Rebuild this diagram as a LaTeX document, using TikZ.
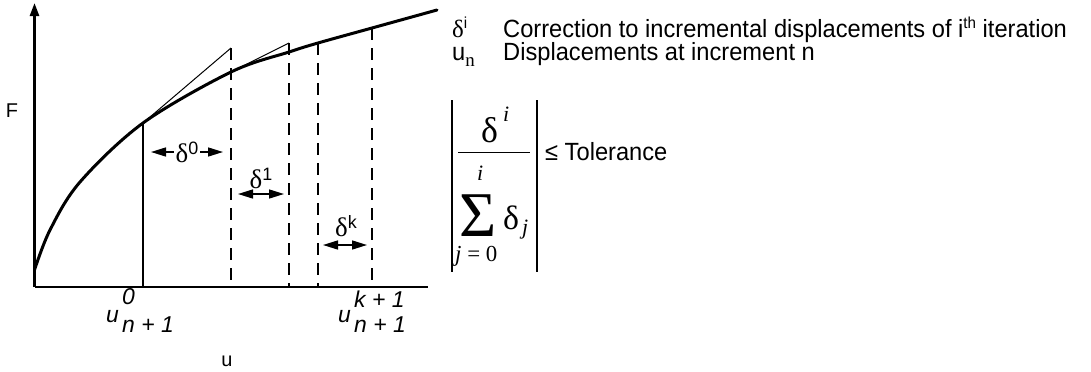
\documentclass[tikz,border=0pt]{standalone}
\usepackage{fontspec}
\setmainfont{Liberation Sans}
\newfontfamily\tms{Liberation Serif}
\newfontfamily\legfont[FakeStretch=0.95]{Liberation Sans}
\usetikzlibrary{arrows.meta}
\newcommand\dlab[1]{{\tms\fontsize{27}{29}\selectfont δ}\raisebox{8bp}{\fontsize{18}{20}\selectfont #1}}
\begin{document}
\begin{tikzpicture}[x=1bp,y=-1bp,
  axis/.style={line width=2.5bp},
  curve/.style={line width=3bp, line join=round, line cap=round},
  solidv/.style={line width=2bp},
  tang/.style={line width=1bp},
  dline/.style={line width=2bp, dash pattern=on 12bp off 8bp},
  dim/.style={line width=1.5bp, {Triangle[length=15bp,width=9bp]}-{Triangle[length=15bp,width=9bp]}},
  lbl/.style={inner sep=0pt, font=\fontsize{20}{22}\selectfont},
  ulab/.style={inner sep=0pt, anchor=base west, font=\fontsize{23}{25}\selectfont\itshape},
  leg/.style={inner sep=0pt, anchor=base west, font=\legfont\fontsize{25}{28}\selectfont},
  mth/.style={inner sep=0pt, anchor=base west},
]
\useasboundingbox (0,0) rectangle (1091,371);
% axes
\coordinate (O) at (34.5,287);
\coordinate (Ytop) at (34.5,3);
\coordinate (Xend) at (428,287);
\draw[axis,-{Triangle[length=13bp,width=9bp]}] (O) -- (Ytop);
\draw[axis] (O) -- (Xend);
% curve
\coordinate (c0) at (34.5,270);
\coordinate (c1) at (50,230);
\coordinate (c2) at (80,182);
\coordinate (p0) at (143,123);
\coordinate (p1) at (231,72);
\coordinate (p2) at (289,52);
\coordinate (p3) at (318,43);
\coordinate (p4) at (372,28);
\coordinate (cend) at (437,10);
\draw[curve] plot[smooth, tension=0.55] coordinates {(c0) (c1) (c2) (p0) (p1) (p2) (p3) (p4) (cend)};
% verticals
\coordinate (b0) at (143,287);
\coordinate (t1) at (231,48);  \coordinate (b1) at (231,287);
\coordinate (t2) at (289,43);  \coordinate (b2) at (289,287);
\coordinate (t3) at (318,43);  \coordinate (b3) at (318,287);
\coordinate (t4) at (372,28);  \coordinate (b4) at (372,287);
\draw[solidv] (p0) -- (b0);
\draw[dline] (t1) -- (b1);
\draw[dline] (t2) -- (b2);
\draw[dline] (t3) -- (b3);
\draw[dline] (t4) -- (b4);
% tangents
\draw[tang] (p0) -- (t1);
\draw[tang] (p1) -- (t2);
% dimension arrows
\coordinate (a0l) at (151,152); \coordinate (a0r) at (223,152);
\draw[dim] (a0l) -- (a0r) node[midway, fill=white, inner sep=2bp] (d0) {\dlab{0}};
\coordinate (a1l) at (238,194); \coordinate (a1r) at (284,194);
\draw[dim] (a1l) -- (a1r);
\node[inner sep=0pt] (d1) at (261,178) {\dlab{1}};
\coordinate (akl) at (323,245); \coordinate (akr) at (367,245);
\draw[dim] (akl) -- (akr);
\node[inner sep=0pt] (dk) at (346,226) {\dlab{k}};
% axis labels
\node[lbl] (F) at (12,111) {F};
\node[lbl] (U) at (227,361) {u};
\node[ulab] (u0) at (106,322) {u};
\node[ulab] (u0p) at (122,304) {0};
\node[ulab] (u0b) at (122,332) {n + 1};
\node[ulab] (uk) at (338,322) {u};
\node[ulab] (ukp) at (354,307) {k + 1};
\node[ulab] (ukb) at (354,332) {n + 1};
% legend
\node[leg] (l1s) at (452,37) {{\tms\fontsize{25}{28}\selectfont δ}\raisebox{9bp}{\fontsize{16}{18}\selectfont i}};
\node[leg] (l1) at (503,37) {Correction to incremental displacements of i\raisebox{9bp}{\fontsize{16}{18}\selectfont th} iteration};
\node[leg] (l2s) at (452,60) {u\raisebox{-6bp}{\tms\fontsize{19}{21}\selectfont n}};
\node[leg] (l2) at (503,60) {Displacements at increment n};
% formula
\coordinate (bl1) at (452,100); \coordinate (bl2) at (452,272);
\coordinate (br1) at (537,100); \coordinate (br2) at (537,272);
\draw[solidv] (bl1) -- (bl2);
\draw[solidv] (br1) -- (br2);
\coordinate (fl) at (458,152); \coordinate (fr) at (530,152);
\draw[line width=1bp] (fl) -- (fr);
\node[mth, font=\tms\fontsize{36}{38}\selectfont] (nd) at (481,142) {δ};
\node[mth, font=\tms\itshape\fontsize{22}{24}\selectfont] (ni) at (503,121) {i};
\node[mth, font=\tms\itshape\fontsize{22}{24}\selectfont, text depth=0pt] (ui) at (477,180) {i};
\node[mth, font=\tms\fontsize{64}{66}\selectfont, text depth=0pt, text height=42bp] (sig) at (459,236) {Σ};
\node[mth, font=\tms\fontsize{34}{36}\selectfont] (sd) at (503,229) {δ};
\node[mth, font=\tms\itshape\fontsize{22}{24}\selectfont] (sj) at (522,234) {j};
\node[mth, font=\tms\fontsize{23}{25}\selectfont, text height=14bp] (lj) at (455,261) {\textit{j} = 0};
\node[leg] (tol) at (545,160) {≤ Tolerance};
\end{tikzpicture}
\end{document}
